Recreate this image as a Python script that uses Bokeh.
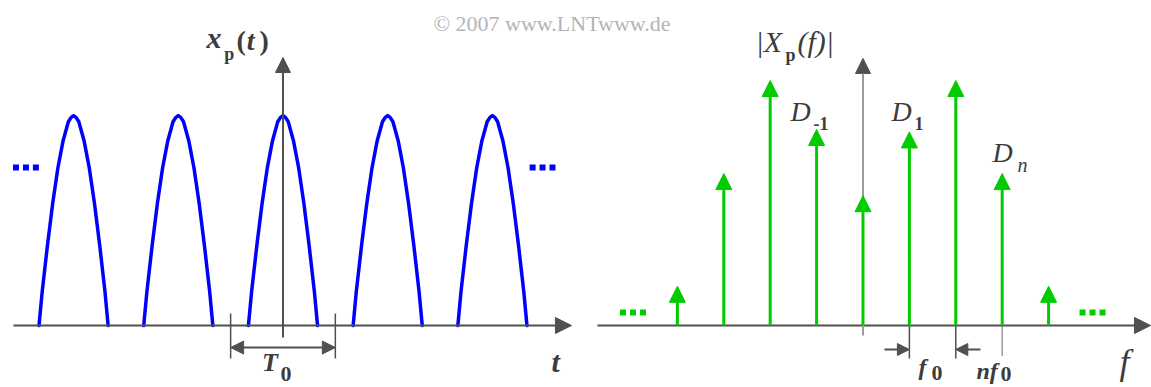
from bokeh.plotting import figure
from bokeh.models import (Range1d, Arrow, NormalHead, ColumnDataSource, Label)
from bokeh.embed import file_html
from bokeh.resources import INLINE

# ---------------- data ----------------
# one period of the time signal x_p(t) (t in units of T0, amplitude normalised)
arch_t = [-0.33, -0.30, -0.25, -0.20, -0.15, -0.10, -0.05, -0.025, 0.0, 0.025, 0.05, 0.10, 0.15, 0.20, 0.25, 0.30, 0.33]
arch_x = [0.0, 0.16, 0.38, 0.58, 0.75, 0.88, 0.97, 0.99, 1.0, 0.99, 0.97, 0.88, 0.75, 0.58, 0.38, 0.16, 0.0]
period_index = [-2, -1, 0, 1, 2]
T0 = 1.0

# spectral lines |D_n| (f in units of f0)
n_index = [-4, -3, -2, -1, 0, 1, 2, 3, 4]
D_abs = [0.16, 0.62, 1.00, 0.80, 0.53, 0.79, 1.00, 0.62, 0.16]

# ---------------- styles ----------------
BLUE = "#0000FF"
GREEN = "#00CC00"
AX = "#505050"
AX_LIGHT = "#9a9a9a"
TXT = "#3c3c3c"
FONT = "Liberation Serif"

W, H = 1151, 387
p = figure(width=W, height=H, output_backend="svg", toolbar_location=None,
           x_axis_location=None, y_axis_location=None,
           x_range=Range1d(-2.698, 8.295), y_range=Range1d(-0.2952, 1.5476),
           min_border=0, min_border_left=0, min_border_right=0,
           min_border_top=0, min_border_bottom=0)
p.outline_line_color = None
p.grid.visible = False
p.background_fill_color = "white"
p.border_fill_color = "white"
p.extra_x_ranges = {"freq": Range1d(-18.588, 6.218)}
p.extra_y_ranges = {"freqy": Range1d(-0.2531, 1.3265)}
FR = dict(x_range_name="freq", y_range_name="freqy")
PX_T = 210.0   # pixels per unit amplitude (left panel)
PX_F = 245.0   # pixels per unit |D| (right panel)

# ================= left panel: time domain =================
xs = [[t + k * T0 for t in arch_t] for k in period_index]
ys = [list(arch_x) for _ in period_index]
p.multi_line(xs, ys, line_color=BLUE, line_width=3.5, line_join="round", line_cap="round")

# axes
p.add_layout(Arrow(end=NormalHead(size=16, fill_color=AX, line_color=AX, line_width=1),
                   x_start=-2.574, y_start=0, x_end=2.755, y_end=0,
                   line_color=AX, line_width=2))
p.add_layout(Arrow(end=NormalHead(size=15, fill_color=AX, line_color=AX, line_width=1),
                   x_start=0, y_start=-0.057, x_end=0, y_end=1.276,
                   line_color=AX, line_width=2))
# T0 dimension
p.segment(x0=[-0.5 * T0, 0.5 * T0], y0=[0.057, 0.057], x1=[-0.5 * T0, 0.5 * T0], y1=[-0.157, -0.157],
          line_color=AX, line_width=1.5)
p.add_layout(Arrow(start=NormalHead(size=13, fill_color=AX, line_color=AX, line_width=1),
                   end=NormalHead(size=13, fill_color=AX, line_color=AX, line_width=1),
                   x_start=-0.5 * T0, y_start=-0.105, x_end=0.5 * T0, y_end=-0.105,
                   line_color=AX, line_width=2))
# continuation dots
dot_step = 0.095
p.scatter([-2.455 - dot_step, -2.455, -2.455 + dot_step], [0.752] * 3, marker="square", size=6,
          fill_color=BLUE, line_color=None)
p.scatter([2.479 - dot_step, 2.479, 2.479 + dot_step], [0.752] * 3, marker="square", size=6,
          fill_color=BLUE, line_color=None)

SHIFT = 0.38  # rendering offset of the alphabetic baseline, in em


def lab(text, x, y, size, style="normal", color=TXT, freq=False, align="left"):
    kw = FR if freq else {}
    unit = PX_F if freq else PX_T
    p.add_layout(Label(x=x, y=y + SHIFT * size / unit, text=text, text_font=FONT,
                       text_font_size=f"{size}px",
                       text_font_style=style, text_color=color, text_align=align,
                       text_baseline="alphabetic", **kw))


lab("\u00a9 2007 www.LNTwww.de", 2.569, 1.398, 22, color="#b4b4b4", align="center")
lab("x", -0.730, 1.319, 30, "bold italic")
lab("p", -0.560, 1.262, 18, "bold")
lab("(", -0.444, 1.305, 28, "bold")
lab("t", -0.345, 1.305, 28, "bold italic")
lab(")", -0.225, 1.305, 28, "bold")
lab("t", 2.564, -0.224, 30, "bold italic")
lab("T", -0.200, -0.224, 26, "bold italic")
lab("0", -0.024, -0.271, 22, "bold")

# ================= right panel: spectrum =================
p.add_layout(Arrow(end=NormalHead(size=16, fill_color=AX, line_color=AX, line_width=1),
                   x_start=-5.722, y_start=0, x_end=6.196, y_end=0,
                   line_color=AX, line_width=2, **FR))
p.add_layout(Arrow(end=NormalHead(size=15, fill_color=AX, line_color=AX, line_width=1),
                   x_start=0, y_start=-0.041, x_end=0, y_end=1.090,
                   line_color=AX_LIGHT, line_width=2, **FR))

src = ColumnDataSource(dict(x0=n_index, y0=[0] * len(n_index), x1=n_index, y1=D_abs))
p.add_layout(Arrow(end=NormalHead(size=16, fill_color=GREEN, line_color=GREEN, line_width=1),
                   x_start="x0", y_start="y0", x_end="x1", y_end="y1", source=src,
                   line_color=GREEN, line_width=3, **FR))

# f0 dimension and n f0 tick
p.segment(x0=[1, 2], y0=[0, 0], x1=[1, 2], y1=[-0.135, -0.135], line_color=AX, line_width=1.5, **FR)
p.segment(x0=[3], y0=[0], x1=[3], y1=[-0.125], line_color=AX_LIGHT, line_width=1.5, **FR)
p.add_layout(Arrow(end=NormalHead(size=12, fill_color=AX, line_color=AX, line_width=1),
                   x_start=0.463, y_start=-0.098, x_end=1.0, y_end=-0.098,
                   line_color=AX, line_width=2, **FR))
p.add_layout(Arrow(end=NormalHead(size=12, fill_color=AX, line_color=AX, line_width=1),
                   x_start=2.532, y_start=-0.098, x_end=2.0, y_end=-0.098,
                   line_color=AX, line_width=2, **FR))

gdot = 0.2155
p.scatter([-4.956 - gdot, -4.956, -4.956 + gdot], [0.053] * 3, marker="square", size=6,
          fill_color=GREEN, line_color=None, **FR)
p.scatter([4.947 - gdot, 4.947, 4.947 + gdot], [0.053] * 3, marker="square", size=6,
          fill_color=GREEN, line_color=None, **FR)

lab("|X", -2.317, 1.111, 30, "italic", freq=True)
lab("p", -1.670, 1.078, 18, "bold", freq=True)
lab("(f)|", -1.412, 1.111, 30, "italic", freq=True)
lab("D", -1.5625, 0.829, 28, "italic", freq=True)
lab("-1", -1.067, 0.796, 18, "bold", freq=True)
lab("D", 0.614, 0.829, 28, "italic", freq=True)
lab("1", 1.110, 0.796, 18, "bold", freq=True)
lab("D", 2.791, 0.661, 28, "italic", freq=True)
lab("n", 3.330, 0.624, 20, "italic", freq=True)
lab("f", 1.196, -0.208, 24, "bold italic", freq=True)
lab("0", 1.476, -0.229, 22, "bold", freq=True)
lab("nf", 2.446, -0.2245, 24, "bold italic", freq=True)
lab("0", 2.963, -0.233, 22, "bold", freq=True)
lab("f", 5.528, -0.204, 36, "italic", freq=True)

open("out.html", "w").write(file_html(p, INLINE))
